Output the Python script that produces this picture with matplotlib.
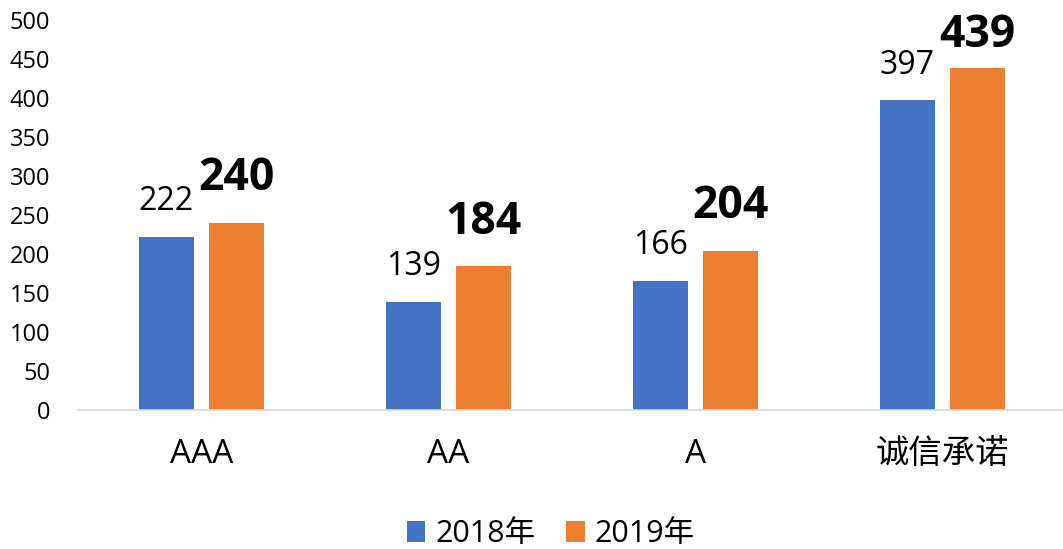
import matplotlib
matplotlib.use('Agg')
import matplotlib.pyplot as plt
import numpy as np

plt.rcParams['font.family'] = ['Open Sans', 'Noto Sans CJK SC', 'DejaVu Sans']

# ── Data ──────────────────────────────────────────────────────────────────────
categories = ['AAA', 'AA', 'A', '诚信承诺']
vals_2018  = [222, 139, 166, 397]
vals_2019  = [240, 184, 204, 439]
series     = ['2018年', '2019年']
y_ticks    = [0, 50, 100, 150, 200, 250, 300, 350, 400, 450, 500]

BLUE   = '#4472C4'
ORANGE = '#ED7D31'

FIG_W, FIG_H, DPI = 10.63, 5.49, 100

fig = plt.figure(figsize=(FIG_W, FIG_H), dpi=DPI)
ax = fig.add_axes([78 / 1063, 139 / 549, 988 / 1063, 390 / 549])

x = np.arange(len(categories))
w = 0.223
off = 0.142
b1 = ax.bar(x - off, vals_2018, w, color=BLUE, label=series[0])
b2 = ax.bar(x + off, vals_2019, w, color=ORANGE, label=series[1])

ax.set_xlim(-0.5, 3.5)
ax.set_ylim(0, 500)

# value labels: 2018 plain, 2019 bold and larger
for xi, v in zip(x, vals_2018):
    ax.annotate(str(v), (xi - off, v), xytext=(0, 19), textcoords='offset points',
                ha='center', va='baseline', fontsize=23, color='#000000')

# bold labels get pushed down when they would run off the top of the chart
px_per_pt = DPI / 72.0
top_limit_px = FIG_H * DPI - 47   # lowest allowed baseline (display coords)
for xi, v in zip(x, vals_2019):
    bar_top = ax.transData.transform((xi + off, v))[1]
    gap_px = min(23.5 * px_per_pt, top_limit_px - bar_top)
    ax.annotate(str(v), (xi + off, v), xytext=(0, gap_px / px_per_pt),
                textcoords='offset points', ha='center', va='baseline',
                fontsize=32, fontweight='bold', color='#000000')

ax.set_yticks(y_ticks)
ax.set_xticks(x)
ax.set_xticklabels(categories, fontsize=24)
ax.tick_params(axis='y', length=0, labelsize=17, pad=20)
ax.tick_params(axis='x', length=0, pad=20)

for s in ['top', 'right', 'left']:
    ax.spines[s].set_visible(False)
ax.spines['bottom'].set_color('#D9D9D9')
ax.spines['bottom'].set_linewidth(1.2)

fig.legend(handles=[b1, b2], loc='center', bbox_to_anchor=(0.518, 0.027),
           ncol=2, frameon=False, fontsize=22, handlelength=0.62,
           handleheight=0.7, columnspacing=1.0, handletextpad=0.32,
           borderpad=0, borderaxespad=0)

fig.savefig('out.png', dpi=DPI)
